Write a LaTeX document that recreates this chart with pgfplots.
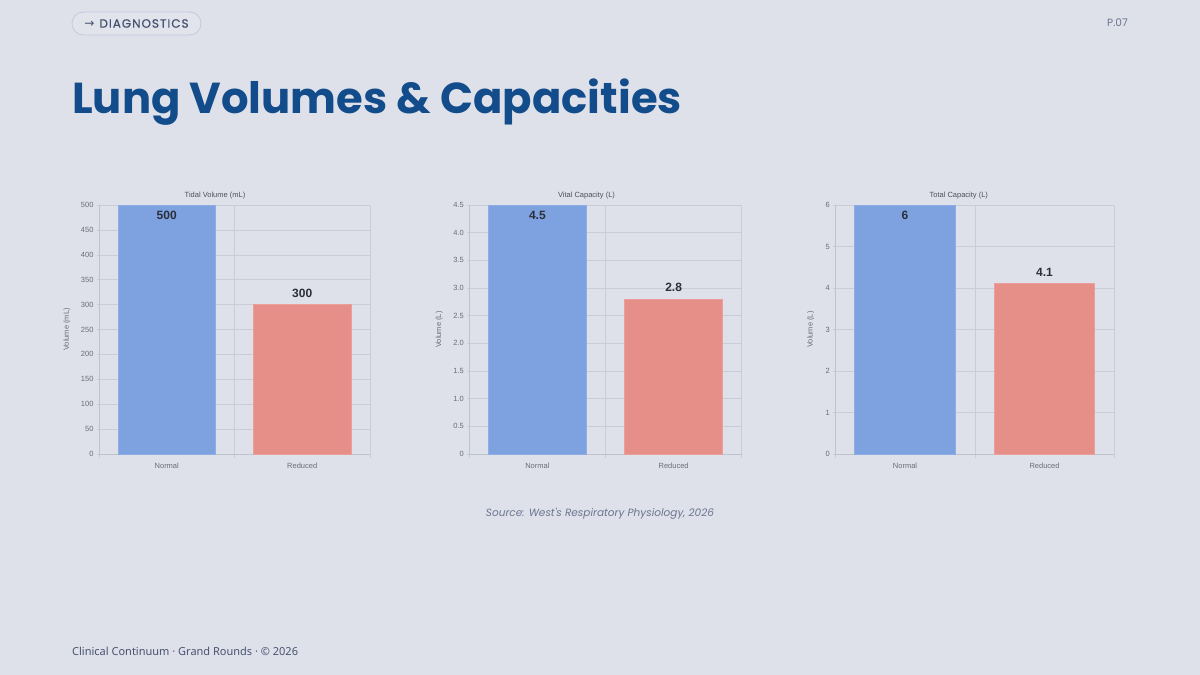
\documentclass[border=0pt]{standalone}
\usepackage{pgfplots}
\pgfplotsset{compat=1.18}
\usepackage{fontspec}
\setmainfont{Liberation Sans}
\newfontfamily\poppins{Poppins}
\newfontfamily\footfont{Noto Sans}
\newfontfamily\symfont{DejaVu Sans}

\definecolor{pagebg}{HTML}{DFE1EA}
\definecolor{titleblue}{HTML}{134C8A}
\definecolor{pillline}{HTML}{C4C9DB}
\definecolor{pilltext}{HTML}{465270}
\definecolor{mutedtext}{HTML}{6B7590}
\definecolor{gridc}{HTML}{CACDD7}
\definecolor{axisc}{HTML}{BEC2CD}
\definecolor{tickc}{HTML}{6A6D75}
\definecolor{labelc}{HTML}{4E5159}
\definecolor{valuec}{HTML}{2B2F3A}
\definecolor{normalc}{HTML}{7EA1E0}
\definecolor{normaledge}{HTML}{8CADE6}
\definecolor{reducedc}{HTML}{E68F88}
\definecolor{reducededge}{HTML}{EC9E98}

\pgfplotsset{
  lungchart/.style={
    scale only axis,
    height=249pt,
    xmin=0, xmax=2, ymin=0,
    xtick={0,1,2}, xticklabels={,,},
    extra x ticks={0.5,1.5},
    extra x tick labels={Normal,Reduced},
    extra x tick style={major tick length=0pt, grid=none,
      xticklabel style={yshift=-6pt}},
    tick align=outside, major tick length=4pt,
    grid=major,
    grid style={color=gridc, line width=0.6pt},
    axis lines=left,
    axis line style={-, color=axisc, line width=0.8pt},
    tick style={color=gridc, line width=0.6pt},
    ticklabel style={font=\fontsize{7.5}{8}\selectfont, color=tickc},
    /pgf/number format/assume math mode=true,
    title style={font=\fontsize{7.5}{8}\selectfont, color=labelc,
      at={(axis description cs:0.5,1)}, anchor=center, yshift=3pt},
    every axis y label/.style={font=\fontsize{7.5}{8}\selectfont, color=tickc,
      at={(axis description cs:0,0.5)}, rotate=90, anchor=center},
    clip=false,
    ybar, bar width=0.72, bar shift=0pt,
    nodes near coords,
    every node near coord/.append style={font=\bfseries\fontsize{12}{13}\selectfont,
      color=valuec, anchor=center},
  },
  normalbar/.style={fill=normalc, draw=normaledge, line width=0.8pt,
    every node near coord/.append style={yshift=-10.7pt}},
  reducedbar/.style={fill=reducedc, draw=reducededge, line width=0.8pt,
    every node near coord/.append style={yshift=11.2pt}},
}

\begin{document}
\begin{tikzpicture}[x=1pt,y=1pt]
  \useasboundingbox (0,0) rectangle (1200,675);
  \fill[pagebg] (0,0) rectangle (1200,675);

  % header
  \draw[pillline, fill=pagebg!90!white, line width=0.8pt, rounded corners=11.5pt]
    (72,640) rectangle (201,663);
  \node[anchor=center, text=pilltext, inner sep=0pt] at (136.5,651.5)
    {{\symfont\fontsize{12}{12}\selectfont →}\hspace{5pt}{\poppins\fontsize{12}{12}\selectfont\addfontfeature{LetterSpace=8,FakeBold=0.6}DIAGNOSTICS}};
  \node[anchor=east, text=mutedtext, inner sep=0pt] at (1128,652)
    {\poppins\fontsize{10.5}{11}\selectfont P.07};

  % page title
  \node[anchor=base west, text=titleblue, inner sep=0pt] at (72,561)
    {\poppins\bfseries\fontsize{43.3}{48}\selectfont Lung Volumes \& Capacities};

  % Tidal volume
  \begin{axis}[lungchart, at={(99pt,221pt)}, anchor=south west,
      width=271pt, ymax=500, ytick={0,50,...,500},
      title={Tidal Volume (mL)},
      title style={xshift=-19.5pt},
      ylabel={Volume (mL)}, ylabel style={yshift=32pt}]
    \addplot[normalbar] coordinates {(0.5,500)};
    \addplot[reducedbar] coordinates {(1.5,300)};
  \end{axis}

  % Vital capacity
  \begin{axis}[lungchart, at={(469.3pt,221pt)}, anchor=south west,
      width=272.4pt, ymax=4.5, ytick={0,0.5,...,4.5},
      yticklabels={0,0.5,1.0,1.5,2.0,2.5,3.0,3.5,4.0,4.5},
      title={Vital Capacity (L)},
      title style={xshift=-19pt},
      ylabel={Volume (L)}, ylabel style={yshift=30pt}]
    \addplot[normalbar] coordinates {(0.5,4.5)};
    \addplot[reducedbar] coordinates {(1.5,2.8)};
  \end{axis}

  % Total capacity
  \begin{axis}[lungchart, at={(835.3pt,221pt)}, anchor=south west,
      width=279pt, ymax=6, ytick={0,1,...,6},
      title={Total Capacity (L)},
      title style={xshift=-16pt},
      ylabel={Volume (L)}, ylabel style={yshift=24.5pt}]
    \addplot[normalbar] coordinates {(0.5,6)};
    \addplot[reducedbar] coordinates {(1.5,4.1)};
  \end{axis}

  % source and footer
  \node[anchor=center, text=mutedtext, inner sep=0pt] at (600,161)
    {\poppins\itshape\fontsize{10.5}{11}\selectfont Source: West's Respiratory Physiology, 2026};
  \node[anchor=west, text=pilltext, inner sep=0pt] at (72,24)
    {\footfont\fontsize{11}{12}\selectfont Clinical Continuum · Grand Rounds · © 2026};
\end{tikzpicture}
\end{document}
